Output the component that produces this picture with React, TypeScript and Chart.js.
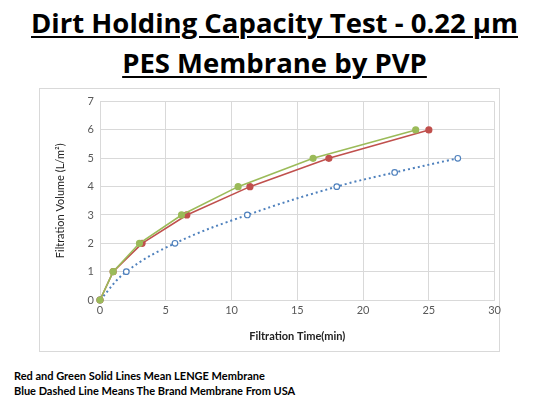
import React, { useEffect, useRef } from "react";
import { Chart, registerables } from "chart.js";

Chart.register(...registerables);

const redTime = [0, 1, 3.2, 6.6, 11.4, 17.4, 25];
const redVolume = [0, 1, 2, 3, 4, 5, 6];
const greenTime = [0, 1, 3, 6.2, 10.5, 16.2, 24];
const greenVolume = [0, 1, 2, 3, 4, 5, 6];
const blueTime = [0, 2, 5.7, 11.2, 18, 22.4, 27.2];
const blueVolume = [0, 1, 2, 3, 4, 4.5, 5];

const titleLines = ["Dirt Holding Capacity Test - 0.22 µm", "PES Membrane by PVP"];
const xTitle = "Filtration Time(min)";
const yTitle = "Filtration Volume (L/m²)";
const notes = [
  "Red and Green Solid Lines Mean LENGE Membrane",
  "Blue Dashed Line Means The Brand Membrane From USA",
];

const FONT = "Lato, 'Open Sans', sans-serif";

function toPts(xs: number[], ys: number[]) {
  return xs.map((x, i) => ({ x, y: ys[i] }));
}

export default function App() {
  const ref = useRef<HTMLCanvasElement | null>(null);
  useEffect(() => {
    if (!ref.current) return;
    const chart = new Chart(ref.current, {
      type: "scatter",
      data: {
        datasets: [
          {
            label: "Green",
            order: 0,
            data: toPts(greenTime, greenVolume),
            showLine: true,
            clip: false,
            borderColor: "#9bbb59",
            borderWidth: 1.6,
            tension: 0,
            pointRadius: 2.8,
            pointBackgroundColor: "#9bbb59",
            pointBorderColor: "#9bbb59",
          },
          {
            label: "Red",
            order: 1,
            data: toPts(redTime, redVolume),
            showLine: true,
            clip: false,
            borderColor: "#c0504d",
            borderWidth: 1.6,
            tension: 0,
            pointRadius: 2.8,
            pointBackgroundColor: "#c0504d",
            pointBorderColor: "#c0504d",
          },
          {
            label: "Blue",
            order: 2,
            data: toPts(blueTime, blueVolume),
            showLine: true,
            clip: false,
            borderColor: "#4f81bd",
            borderWidth: 2,
            borderDash: [2, 3],
            tension: 0.4,
            pointRadius: 2.8,
            pointBorderWidth: 1.2,
            pointBackgroundColor: "#ffffff",
            pointBorderColor: "#4f81bd",
          },
        ],
      },
      options: {
        animation: false,
        responsive: false,
        maintainAspectRatio: false,
        layout: { padding: { left: 14, right: 0, top: 12, bottom: 8 } },
        plugins: { legend: { display: false }, tooltip: { enabled: false } },
        scales: {
          x: {
            type: "linear",
            min: 0,
            max: 30,
            ticks: { stepSize: 5, color: "#595959", font: { family: FONT, size: 11 }, padding: 4 },
            grid: { color: "#d9d9d9", drawTicks: false },
            border: { color: "#d9d9d9" },
            title: {
              display: true,
              text: xTitle,
              color: "#222",
              font: { family: FONT, size: 11, weight: "bold" },
              padding: { top: 6, bottom: 0 },
            },
            afterFit: (s: any) => {
              s.height = 43;
            },
          },
          y: {
            type: "linear",
            min: 0,
            max: 7,
            ticks: { stepSize: 1, color: "#595959", font: { family: FONT, size: 11 }, padding: 6 },
            grid: { color: "#d9d9d9", drawTicks: false },
            border: { color: "#d9d9d9" },
            title: {
              display: true,
              text: yTitle,
              color: "#222",
              font: { family: FONT, size: 11 },
              padding: { top: 0, bottom: 6 },
            },
            afterFit: (s: any) => {
              s.width = 46;
            },
          },
        },
      },
    });
    return () => chart.destroy();
  }, []);

  return (
    <div style={{ position: "fixed", left: 0, top: 0, width: 549, height: 411, background: "#fff", fontFamily: FONT }}>
      {titleLines.map((t, i) => (
        <div
          key={i}
          style={{
            position: "absolute",
            left: 0,
            width: 549,
            top: 4 + i * 40,
            textAlign: "center",
            fontSize: 27.5,
            fontWeight: 700,
            lineHeight: "38px",
            color: "#000",
            textDecoration: "underline",
            textDecorationThickness: 2,
            textUnderlineOffset: 3,
            fontFamily: "'Open Sans', sans-serif",
          }}
        >
          {t}
        </div>
      ))}
      <div
        style={{
          position: "absolute",
          left: 39,
          top: 88,
          width: 459,
          height: 262,
          border: "1px solid #d9d9d9",
        }}
      />
      <canvas
        ref={ref}
        width={465}
        height={262}
        style={{ display: "block", position: "absolute", left: 40, top: 89 }}
      />
      <div style={{ position: "absolute", left: 14, top: 368, fontSize: 11, fontWeight: 700, lineHeight: "15px", color: "#000" }}>
        {notes.map((n, i) => (
          <div key={i}>{n}</div>
        ))}
      </div>
    </div>
  );
}
